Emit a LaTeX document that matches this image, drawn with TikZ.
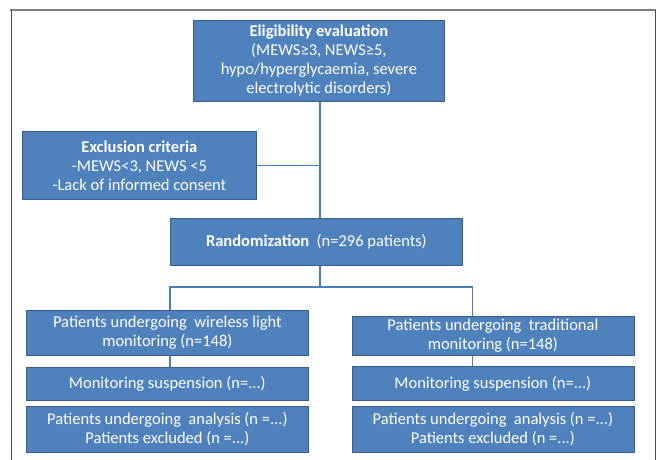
\documentclass[tikz,border=0pt]{standalone}
\usepackage{fontspec}
\setmainfont{Carlito}
\definecolor{boxfill}{HTML}{4F81BD}
\definecolor{boxedge}{HTML}{385D8A}
\definecolor{linkc}{HTML}{4A7EBB}
\definecolor{framec}{HTML}{7F7F7F}
\begin{document}
\begin{tikzpicture}[x=1pt,y=-1pt,
  fbox/.style={draw=boxedge, line width=0.8pt, fill=boxfill, text=white, anchor=north west,
    inner sep=0pt, align=center, font=\fontsize{16.5}{19}\selectfont},
  conn/.style={draw=linkc, line width=1.4pt}]
\useasboundingbox[fill=white] (0,0) rectangle (657,460);
% frame
\draw[framec, line width=2pt] (10,10) -- (656,10);
\draw[black!70, line width=1pt] (11,460) -- (11,10);
\draw[black!70, line width=1pt] (655,10) -- (655,460);
% nodes
\node[fbox, minimum width=251, minimum height=81] (elig) at (193,20)
  {\textbf{Eligibility evaluation}\\(MEWS≥3, NEWS≥5,\\hypo/hyperglycaemia, severe\\electrolytic disorders)};
\node[fbox, minimum width=234, minimum height=68] (excl) at (22,131)
  {\textbf{Exclusion criteria}\\-MEWS<3, NEWS <5\\-Lack of informed consent};
\node[fbox, minimum width=292, minimum height=47] (rand) at (170,218)
  {\textbf{Randomization} \ (n=296 patients)};
\node[fbox, minimum width=282, minimum height=45] (l1) at (26,310)
  {Patients undergoing \ wireless light\\monitoring (n=148)};
\node[fbox, minimum width=282, minimum height=33] (l2) at (26,367)
  {Monitoring suspension (n=...)};
\node[fbox, minimum width=282, minimum height=46] (l3) at (26,406)
  {Patients undergoing \ analysis (n =...)\\Patients excluded (n =...)};
\node[fbox, minimum width=282, minimum height=39] (r1) at (351.5,316)
  {Patients undergoing \ traditional\\monitoring (n=148)};
\node[fbox, minimum width=282, minimum height=34] (r2) at (351.5,366)
  {Monitoring suspension (n=...)};
\node[fbox, minimum width=282, minimum height=46] (r3) at (351.5,406)
  {Patients undergoing \ analysis (n =...)\\Patients excluded (n =...)};
% connector coordinates
\coordinate (tx) at (320,0);
\coordinate (lb) at (170,287);
\coordinate (rb) at (472.7,287);
% connectors
\draw[conn] (tx |- elig.south) -- (tx |- rand.north);
\draw[conn] (excl.east) -- (excl.east -| tx);
\draw[conn] (tx |- rand.south) -- (tx |- lb);
\draw[conn] (lb |- l1.north) -- (lb) -- (rb) -- (rb |- r1.north);
\draw[conn] (lb |- l1.south) -- (lb |- l2.north);
\draw[conn] (rb |- r1.south) -- (rb |- r2.north);
\end{tikzpicture}
\end{document}
